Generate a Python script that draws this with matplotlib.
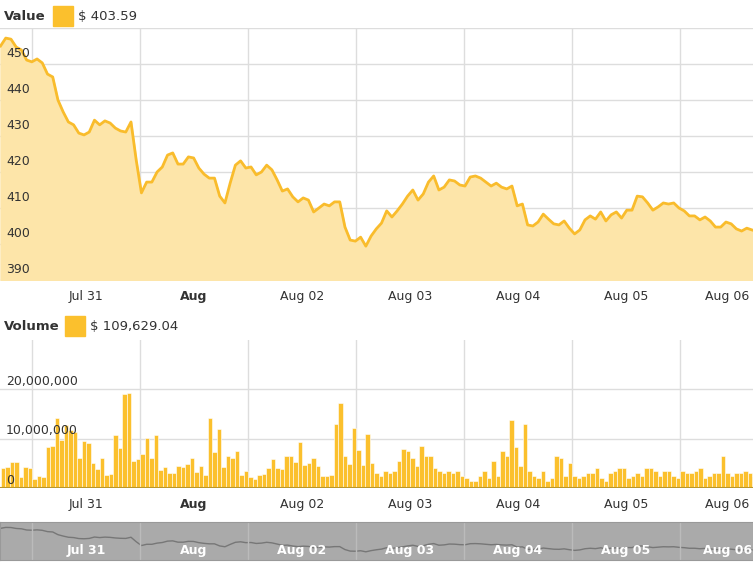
import numpy as np
import pandas as pd
import matplotlib
matplotlib.use("Agg")
import matplotlib.pyplot as plt
import matplotlib.dates as mdates

# ------------------------------------------------------------------
# Data
# ------------------------------------------------------------------
price = [455.0, 457.2, 456.9, 454.7, 453.9, 451.1, 450.6, 451.4, 450.3, 447.2,
         446.4, 440.0, 436.7, 433.9, 433.1, 430.8, 430.3, 431.1, 434.4, 433.1,
         434.2, 433.6, 432.2, 431.4, 431.1, 433.9, 423.3, 414.2, 417.2, 417.2,
         420.0, 421.4, 424.7, 425.3, 422.2, 422.2, 424.2, 423.9, 421.1, 419.4,
         418.3, 418.3, 413.3, 411.4, 416.9, 421.9, 423.1, 421.1, 421.4, 419.2,
         420.0, 421.9, 420.6, 417.8, 414.7, 415.3, 413.1, 411.7, 412.8, 412.2,
         408.9, 410.0, 411.1, 410.6, 411.7, 411.7, 404.7, 401.1, 400.8, 401.9,
         399.4, 402.2, 404.2, 405.8, 409.2, 407.5, 409.2, 411.1, 413.3, 415.0,
         412.2, 413.9, 417.2, 418.9, 415.0, 415.8, 417.8, 417.5, 416.4, 416.1,
         418.6, 418.9, 418.3, 417.2, 416.1, 416.9, 415.8, 415.3, 416.1, 410.6,
         411.1, 405.3, 405.0, 406.1, 408.3, 406.9, 405.6, 405.3, 406.4, 404.4,
         402.8, 403.9, 406.7, 407.8, 406.9, 408.9, 406.4, 408.1, 408.9, 407.2,
         409.4, 409.4, 413.3, 413.1, 411.4, 409.4, 410.3, 411.4, 411.1, 411.4,
         410.0, 409.2, 407.8, 407.8, 406.7, 407.5, 406.4, 404.7, 404.7, 406.1,
         405.6, 404.2, 403.6, 404.4, 403.9]

volume_m = [4.0, 4.3, 5.3, 5.3, 2.2, 4.3, 4.0, 1.9, 2.5, 2.2, 8.3, 8.5, 14.1, 9.7,
            12.8, 11.7, 11.3, 6.0, 9.5, 9.1, 5.1, 3.8, 6.0, 2.7, 2.9, 10.7, 8.1,
            19.0, 19.3, 5.5, 5.8, 6.9, 10.2, 6.0, 10.7, 3.7, 4.2, 3.0, 3.0, 4.5,
            4.2, 4.9, 6.0, 3.3, 4.5, 2.7, 14.1, 7.3, 12.0, 4.2, 6.5, 6.0, 7.5,
            2.7, 3.4, 2.3, 1.8, 2.6, 2.9, 4.0, 5.8, 4.0, 3.8, 6.5, 6.5, 5.3, 9.4,
            4.7, 5.0, 6.0, 4.5, 2.5, 2.5, 2.7, 13.0, 17.3, 6.5, 4.9, 12.2, 7.8,
            4.7, 10.9, 5.1, 3.0, 2.5, 3.5, 3.0, 3.5, 5.5, 8.0, 7.5, 6.0, 4.5, 8.5,
            6.5, 6.5, 4.0, 3.5, 3.0, 3.5, 3.0, 3.5, 2.5, 2.0, 1.5, 1.5, 2.5, 3.5,
            2.0, 5.5, 2.5, 7.5, 6.5, 13.8, 8.3, 4.5, 13.0, 3.5, 2.5, 2.0, 3.5, 1.5,
            2.0, 6.5, 6.0, 2.5, 5.0, 2.5, 2.0, 2.5, 3.0, 3.0, 4.0, 2.0, 1.5, 3.0,
            3.5, 4.0, 4.0, 2.0, 2.5, 3.0, 2.5, 4.0, 4.0, 3.5, 2.5, 3.5, 3.5, 2.5,
            2.0, 3.5, 3.0, 3.0, 3.5, 4.0, 2.0, 2.5, 3.0, 3.0, 6.5, 3.0, 2.5, 3.0,
            3.0, 3.5, 3.0, 2.5, 3.5, 3.0]

START = "2016-07-30 17:00"
END = "2016-08-06 16:00"
x_left, x_right = "2016-07-30 16:53", "2016-08-06 16:13"

day_labels = ["Jul 31", "Aug", "Aug 02", "Aug 03", "Aug 04", "Aug 05", "Aug 06"]
day_ticks = pd.date_range("2016-07-31 12:00", periods=7, freq="D")
day_grid = pd.date_range("2016-07-31", periods=7, freq="D")

price_t = pd.date_range(START, END, periods=len(price))
vol_t = pd.date_range(START, periods=len(volume_m), freq="h")
volume = np.array(volume_m) * 1e6

LINE = "#F9BC2C"
FILL = "#FDE5A9"
BAR = "#FBC02D"
GRID = "#DDDDDD"
TXT = "#333333"

fig = plt.figure(figsize=(7.53, 5.62), dpi=100)
W, H = 753, 562


def px_axes(x0, y0, x1, y1):
    return fig.add_axes([x0 / W, 1 - y1 / H, (x1 - x0) / W, (y1 - y0) / H])


def day_label_text(ax, y, **kw):
    # last label pulled left so it stays inside the chart, like the original
    for i, (t, lbl) in enumerate(zip(day_ticks, day_labels)):
        tt = t - pd.Timedelta(hours=1.5) if i == len(day_labels) - 1 else t
        ax.text(tt, y, lbl, ha="center", transform=ax.get_xaxis_transform(),
                fontweight="bold" if lbl == "Aug" else kw.get("fontweight", "normal"),
                **{k: v for k, v in kw.items() if k != "fontweight"})


def style(ax):
    ax.set_xlim(pd.Timestamp(x_left), pd.Timestamp(x_right))
    for s in ax.spines.values():
        s.set_visible(False)
    for g in day_grid:
        ax.axvline(g, color=GRID, lw=1, zorder=0)
    ax.set_xticks([])
    ax.set_yticks([])


# ---- price panel
ax1 = px_axes(0, 28, 753, 280)
style(ax1)
ax1.set_ylim(390, 460)
for v in range(390, 461, 10):
    ax1.axhline(v, color=GRID, lw=1, zorder=0)
    if v < 460:
        ax1.text(0.008, v + 1.0, str(v), transform=ax1.get_yaxis_transform(),
                 fontsize=9, color=TXT, va="bottom", zorder=5)
ax1.fill_between(price_t, price, 380, color=FILL, zorder=2)
ax1.plot(price_t, price, color=LINE, lw=2, zorder=3)
day_label_text(ax1, -0.04, fontsize=9, color=TXT, va="top")

# ---- volume panel
ax2 = px_axes(0, 340, 753, 488)
style(ax2)
ax2.set_ylim(0, 30e6)
for v in [0, 10e6, 20e6]:
    ax2.axhline(v, color=GRID, lw=1, zorder=0)
    ax2.text(0.008, v + 0.3e6, f"{int(v):,}", transform=ax2.get_yaxis_transform(),
             fontsize=9, color=TXT, va="bottom", zorder=5)
ax2.bar(vol_t, volume, width=1 / 24, color=BAR, edgecolor="white", linewidth=0.4,
        align="edge", zorder=2)
ax2.axhline(0, color="#B8962E", lw=1.5, zorder=4)
day_label_text(ax2, -0.07, fontsize=9, color=TXT, va="top")

# ---- navigator
ax3 = px_axes(0, 522, 753, 560)
ax3.set_facecolor("#AAAAAA")
ax3.set_xlim(pd.Timestamp(x_left), pd.Timestamp(x_right))
ax3.set_ylim(380, 470)
ax3.plot(price_t, price, color="#777777", lw=1)
for g in day_grid:
    ax3.axvline(g, color="#BBBBBB", lw=1)
day_label_text(ax3, 0.08, fontsize=9, color="white", va="bottom", fontweight="bold")
ax3.set_xticks([])
ax3.set_yticks([])
for s in ax3.spines.values():
    s.set_color("#999999")

# ---- headers
def header(y, name, value, xs, xv):
    fig.text(4 / W, 1 - y / H, name, fontsize=9.5, fontweight="bold", color=TXT, va="center")
    fig.patches.append(plt.Rectangle((xs / W, 1 - (y + 10) / H), 20 / W, 20 / H,
                                     transform=fig.transFigure, color=BAR))
    fig.text(xv / W, 1 - y / H, value, fontsize=9.5, color=TXT, va="center")


header(16, "Value", "$ 403.59", 53, 78)
header(326, "Volume", "$ 109,629.04", 65, 90)

fig.savefig("out.png", dpi=100, facecolor="white")
